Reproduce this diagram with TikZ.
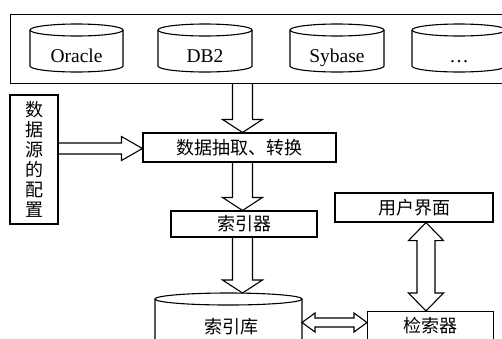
\documentclass[tikz,border=0pt]{standalone}
\usepackage{fontspec}
\setmainfont{Liberation Serif}
\newfontfamily\cjk{Noto Sans CJK SC}
\usetikzlibrary{calc}

\tikzset{
  ln/.style={line width=1.1pt},
  cjktext/.style={font=\cjk\fontsize{18}{20}\selectfont},
  box/.style={draw, ln, inner sep=0pt, cjktext},
  dbtext/.style={anchor=base, inner sep=0pt, font=\fontsize{19.5}{20}\selectfont},
  blk/.style={draw, ln, line join=miter},
}

% database drum: left x, right x, top y, bottom y
\newcommand\drum[4]{%
  \pgfmathsetmacro\dcx{(#1+#2)/2}%
  \pgfmathsetmacro\drx{(#2-#1)/2}%
  \draw[ln] (\dcx,#3+6) ellipse[x radius=\drx pt, y radius=6pt];
  \draw[ln] (#1,#3+6) -- (#1,#4-6)
    arc[start angle=180, end angle=360, x radius=\drx pt, y radius=6pt]
    -- (#2,#3+6);}

% hollow block arrow pointing down: start, tip
\newcommand\downblock[2]{%
  \draw[blk] let \p1=(#1), \p2=(#2) in
    (\x1-10pt,\y1) -- (\x1-10pt,\y2+13pt) -- (\x1-20pt,\y2+13pt) -- (\x2,\y2)
    -- (\x1+20pt,\y2+13pt) -- (\x1+10pt,\y2+13pt) -- (\x1+10pt,\y1);}

% hollow block arrow pointing right: start, tip
\newcommand\rightblock[2]{%
  \draw[blk] let \p1=(#1), \p2=(#2) in
    (\x1,\y1+5.5pt) -- (\x2-21pt,\y1+5.5pt) -- (\x2-21pt,\y1+12pt) -- (\x2,\y1)
    -- (\x2-21pt,\y1-12pt) -- (\x2-21pt,\y1-5.5pt) -- (\x1,\y1-5.5pt);}

% vertical double block arrow: upper tip, lower tip
\newcommand\vdoubleblock[2]{%
  \draw[blk] let \p1=(#1), \p2=(#2) in
    (\x1,\y1) -- (\x1+17.5pt,\y1-18pt) -- (\x1+9pt,\y1-18pt) -- (\x1+9pt,\y2+18pt)
    -- (\x1+17.5pt,\y2+18pt) -- (\x2,\y2) -- (\x1-17.5pt,\y2+18pt) -- (\x1-9pt,\y2+18pt)
    -- (\x1-9pt,\y1-18pt) -- (\x1-17.5pt,\y1-18pt) -- cycle;}

% horizontal double block arrow: left tip, right tip
\newcommand\hdoubleblock[2]{%
  \draw[blk] let \p1=(#1), \p2=(#2) in
    (\x1,\y1) -- (\x1+13pt,\y1+9.5pt) -- (\x1+13pt,\y1+4.5pt) -- (\x2-13pt,\y1+4.5pt)
    -- (\x2-13pt,\y1+9.5pt) -- (\x2,\y2) -- (\x2-13pt,\y1-9.5pt) -- (\x2-13pt,\y1-4.5pt)
    -- (\x1+13pt,\y1-4.5pt) -- (\x1+13pt,\y1-9.5pt) -- cycle;}

\begin{document}
\begin{tikzpicture}[x=1pt, y=-1pt]
\useasboundingbox (0,0) rectangle (502,338);
\clip (0,0) rectangle (502,338);

% data source panel
\node[draw, ln, minimum width=510pt, minimum height=69pt, anchor=north west, inner sep=0pt] (src) at (10,14) {};
\drum{30}{123}{24}{72}
\drum{158}{252}{24}{72}
\drum{290}{384}{24}{72}
\drum{412}{506}{24}{72}
\node[dbtext] (oracle) at (76.5,62) {Oracle};
\node[dbtext] (db2) at (205,62) {DB2};
\node[dbtext] (sybase) at (337,62) {Sybase};
\node[dbtext] (more) at (459,62) {…};

% processing boxes
\node[box, minimum width=193pt, minimum height=29pt] (extract) at (239.5,147.5) {数据抽取、转换};
\node[box, minimum width=48pt, minimum height=129pt, align=center] (config) at (34,159.5) {数\\据\\源\\的\\配\\置};
\node[box, minimum width=146pt, minimum height=26pt] (indexer) at (244,224) {索引器};
\node[box, minimum width=158pt, minimum height=29pt] (ui) at (414,207.5) {用户界面};
\node[box, minimum width=126pt, minimum height=28pt, anchor=north west] (retr) at (367,311) {检索器};

% index store drum
\drum{155}{302}{293}{380}
\coordinate (idxtop) at (228.5,293);
\coordinate (idxright) at (302,322.5);
\node[inner sep=0pt, cjktext] (idx) at (231,327) {索引库};

% connectors
\coordinate (ax) at (242.5,0);
\coordinate (ly) at (0,148.5);
\coordinate (vx) at (426,0);
\downblock{ax |- src.south}{ax |- extract.north}
\downblock{ax |- extract.south}{ax |- indexer.north}
\downblock{ax |- indexer.south}{ax |- idxtop}
\rightblock{config.east |- ly}{extract.west |- ly}
\vdoubleblock{vx |- ui.south}{vx |- retr.north}
\hdoubleblock{idxright}{retr.west |- idxright}
\end{tikzpicture}
\end{document}
